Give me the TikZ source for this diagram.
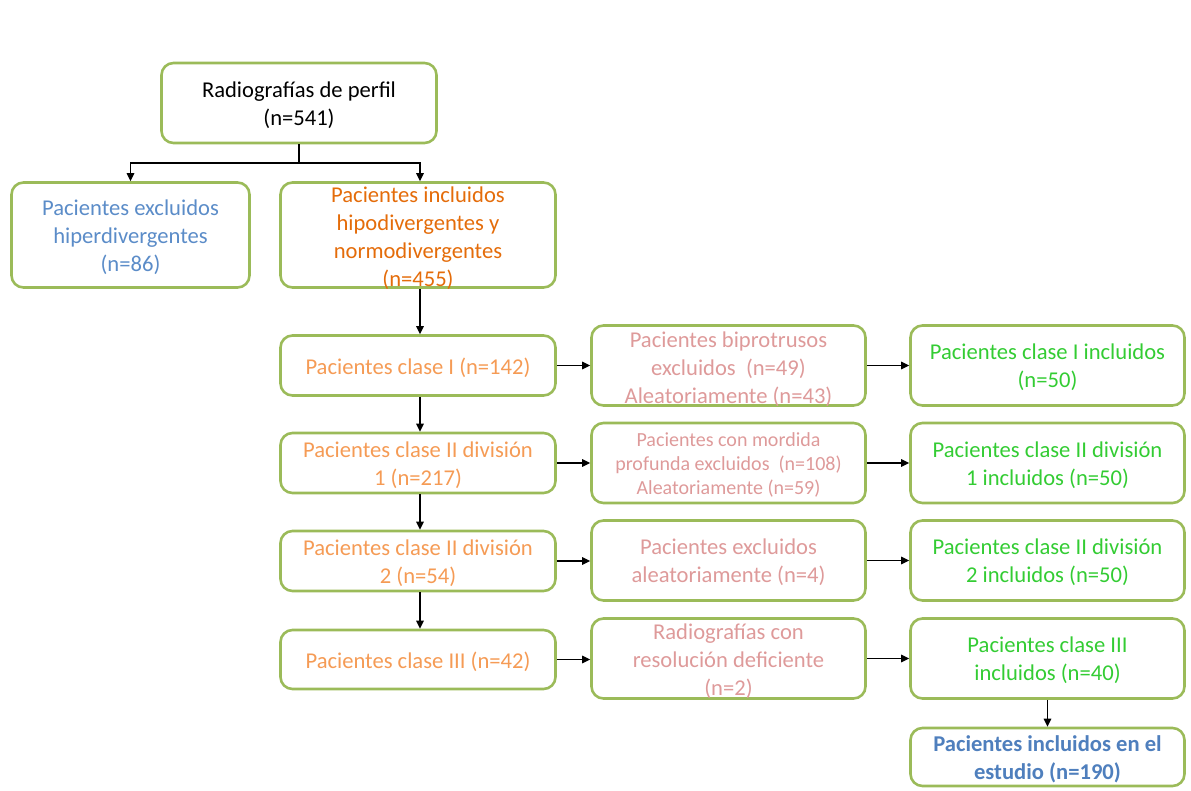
\documentclass[tikz,border=0pt]{standalone}
\usepackage{fontspec}
\setmainfont{Carlito}
\usetikzlibrary{arrows.meta}
\definecolor{boxgreen}{HTML}{9BBB59}
\definecolor{exclblue}{HTML}{5B8CC8}
\definecolor{inclorange}{HTML}{E46C0A}
\definecolor{lightorange}{HTML}{F59B55}
\definecolor{dustypink}{HTML}{DE9A9A}
\definecolor{brightgreen}{HTML}{33CC33}
\definecolor{finalblue}{HTML}{4F7FBD}
\begin{document}
\begin{tikzpicture}[x=1pt,y=-1pt,
  flowbox/.style={draw=boxgreen, line width=2.6pt, rounded corners=12pt, inner sep=0pt},
  txt/.style={align=center, inner sep=0pt, font=\fontsize{22.6}{28}\selectfont, yshift=-2pt},
  smalltxt/.style={align=center, inner sep=0pt, font=\fontsize{20}{24}\selectfont, yshift=-2pt},
  arr/.style={draw=black, line width=1.4pt, -{Triangle[length=8pt,width=7.5pt]}},
  plainline/.style={draw=black, line width=1.4pt}
]
\useasboundingbox (0,0) rectangle (1191,790);

% top level
\node[flowbox, minimum width=275pt, minimum height=80pt] (top) at (299,103) {};
\node[txt] at (top) {Radiografías de perfil\\(n=541)};

\node[flowbox, minimum width=238pt, minimum height=105pt] (excl) at (130.5,235) {};
\node[txt, text=exclblue] at (excl) {Pacientes excluidos\\hiperdivergentes\\(n=86)};

\node[flowbox, minimum width=275pt, minimum height=105pt] (incl) at (418,235) {};
\node[txt, text=inclorange] at ([yshift=-1.5pt]incl) {Pacientes incluidos\\hipodivergentes y\\normodivergentes\\(n=455)};

% column 1
\node[flowbox, minimum width=275pt, minimum height=60pt] (c1a) at (418,365.5) {};
\node[txt, text=lightorange] at (c1a) {Pacientes clase I (n=142)};
\node[flowbox, minimum width=275pt, minimum height=60pt] (c1b) at (418,463) {};
\node[txt, text=lightorange] at (c1b) {Pacientes clase II división\\1 (n=217)};
\node[flowbox, minimum width=275pt, minimum height=60pt] (c1c) at (418,561) {};
\node[txt, text=lightorange] at (c1c) {Pacientes clase II división\\2 (n=54)};
\node[flowbox, minimum width=275pt, minimum height=59pt] (c1d) at (418,659.5) {};
\node[txt, text=lightorange] at (c1d) {Pacientes clase III (n=42)};

% column 2
\node[flowbox, minimum width=274pt, minimum height=80pt] (c2a) at (728.5,365.5) {};
\node[txt, text=dustypink] at ([yshift=-2pt]c2a) {Pacientes biprotrusos\\excluidos\ \ (n=49)\\Aleatoriamente (n=43)};
\node[flowbox, minimum width=274pt, minimum height=80pt] (c2b) at (728.5,463) {};
\node[smalltxt, text=dustypink] at (c2b) {Pacientes con mordida\\profunda excluidos\ \ (n=108)\\Aleatoriamente (n=59)};
\node[flowbox, minimum width=274pt, minimum height=80pt] (c2c) at (728.5,560.5) {};
\node[txt, text=dustypink] at (c2c) {Pacientes excluidos\\aleatoriamente (n=4)};
\node[flowbox, minimum width=274pt, minimum height=80pt] (c2d) at (728.5,658.5) {};
\node[txt, text=dustypink] at ([yshift=-1pt]c2d) {Radiografías con\\resolución deficiente\\(n=2)};

% column 3
\node[flowbox, minimum width=274pt, minimum height=80pt] (c3a) at (1047.5,365.5) {};
\node[txt, text=brightgreen] at (c3a) {Pacientes clase I incluidos\\(n=50)};
\node[flowbox, minimum width=274pt, minimum height=80pt] (c3b) at (1047.5,463) {};
\node[txt, text=brightgreen] at (c3b) {Pacientes clase II división\\1 incluidos (n=50)};
\node[flowbox, minimum width=274pt, minimum height=80pt] (c3c) at (1047.5,560.5) {};
\node[txt, text=brightgreen] at (c3c) {Pacientes clase II división\\2 incluidos (n=50)};
\node[flowbox, minimum width=274pt, minimum height=80pt] (c3d) at (1047.5,658.5) {};
\node[txt, text=brightgreen] at (c3d) {Pacientes clase III\\incluidos (n=40)};
\node[flowbox, minimum width=274pt, minimum height=58pt] (fin) at (1047.5,757) {};
\node[txt, text=finalblue, font=\fontsize{22.6}{28}\selectfont\bfseries] at (fin) {Pacientes incluidos en el\\estudio (n=190)};

% connectors
\coordinate (split) at (300,163);
\draw[plainline] (top.south) -- (top.south |- split);
\draw[arr] (top.south |- split) -| (excl.north);
\draw[arr] (top.south |- split) -| ([xshift=2pt]incl.north);
\draw[arr] ([xshift=2pt]incl.south) -- ([xshift=2pt]c1a.north);
\draw[arr] ([xshift=2pt]c1a.south) -- ([xshift=2pt]c1b.north);
\draw[arr] ([xshift=2pt]c1b.south) -- ([xshift=2pt]c1c.north);
\draw[arr] ([xshift=2pt]c1c.south) -- ([xshift=2pt]c1d.north);

\draw[arr] (c1a.east) -- (c1a.east -| c2a.west);
\draw[arr] (c1b.east) -- (c1b.east -| c2b.west);
\draw[arr] (c1c.east) -- (c1c.east -| c2c.west);
\draw[arr] (c1d.east) -- (c1d.east -| c2d.west);

\draw[arr] (c2a.east) -- (c3a.west);
\draw[arr] (c2b.east) -- (c3b.west);
\draw[arr] (c2c.east) -- (c3c.west);
\draw[arr] (c2d.east) -- (c3d.west);

\draw[arr] (c3d.south) -- (fin.north);
\end{tikzpicture}
\end{document}
